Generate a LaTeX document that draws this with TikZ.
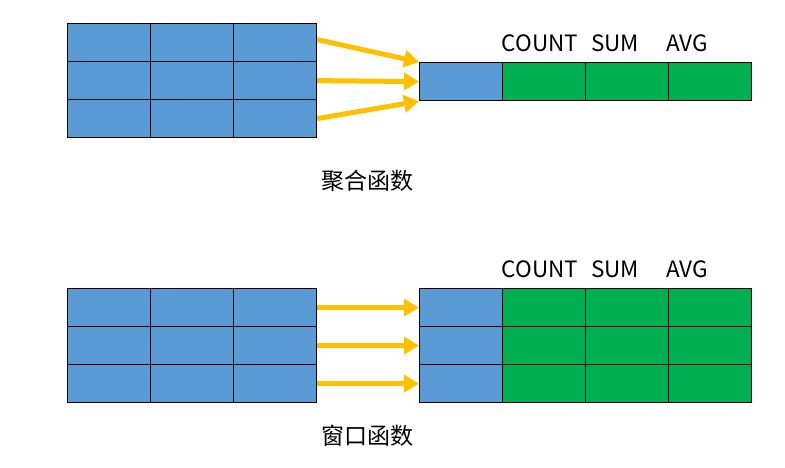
\documentclass[tikz,border=0pt]{standalone}
\usepackage{fontspec}
\setmainfont{Noto Sans CJK SC}
\usetikzlibrary{arrows.meta}
\definecolor{cellblue}{HTML}{5B9BD5}
\definecolor{cellgreen}{HTML}{00B050}
\definecolor{arrowgold}{HTML}{FFC000}

\begin{document}
\begin{tikzpicture}[
x=1pt,y=-1pt,
Cell/.style={draw=black,line width=1.2pt,minimum width=83pt,minimum height=38pt,inner sep=0pt,anchor=north west},
KeyCell/.style={Cell,fill=cellblue},
AggCell/.style={Cell,fill=cellgreen},
Flow/.style={-{Triangle[length=15pt,width=17pt]},draw=arrowgold,line width=5pt},
Head/.style={font=\fontsize{22.5}{26}\selectfont,inner sep=0pt},
Caption/.style={font=\fontsize{23}{27}\selectfont,inner sep=0pt}
]
\useasboundingbox (0,0) rectangle (785,468);

% aggregate: source table
\foreach \r in {0,1,2}{
  \foreach \c in {0,1,2}{
    \node[KeyCell] (s\r\c) at (67+83*\c,23+38*\r) {};
  }
}

% aggregate: one result row
\node[KeyCell] (k) at (419,62) {};
\node[AggCell] (g1) at (502,62) {};
\node[AggCell] (g2) at (585,62) {};
\node[AggCell] (g3) at (668,62) {};

\node[Head] (hc) at (540,43) {COUNT};
\node[Head] (hs) at (615,43) {SUM};
\node[Head] (ha) at (687,43) {AVG};

\draw[Flow] ([yshift=3pt]s02.east) -- (k.north west);
\draw[Flow] (s12.east) -- (k.west);
\draw[Flow] (s22.east) -- (k.south west);

\node[Caption] (agg) at (367,181) {聚合函数};

% window: source table and result table
\foreach \r in {0,1,2}{
  \foreach \c in {0,1,2}{
    \node[KeyCell] (b\r\c) at (67+83*\c,288+38*\r) {};
  }
  \node[KeyCell] (w\r0) at (419,288+38*\r) {};
  \foreach \c in {1,2,3}{
    \node[AggCell] (w\r\c) at (419+83*\c,288+38*\r) {};
  }
  \draw[Flow] (b\r2.east) -- (w\r0.west);
}

\node[Head] (wc) at (540,269) {COUNT};
\node[Head] (ws) at (615,269) {SUM};
\node[Head] (wa) at (687,269) {AVG};

\node[Caption] (win) at (367,436) {窗口函数};

\end{tikzpicture}
\end{document}
